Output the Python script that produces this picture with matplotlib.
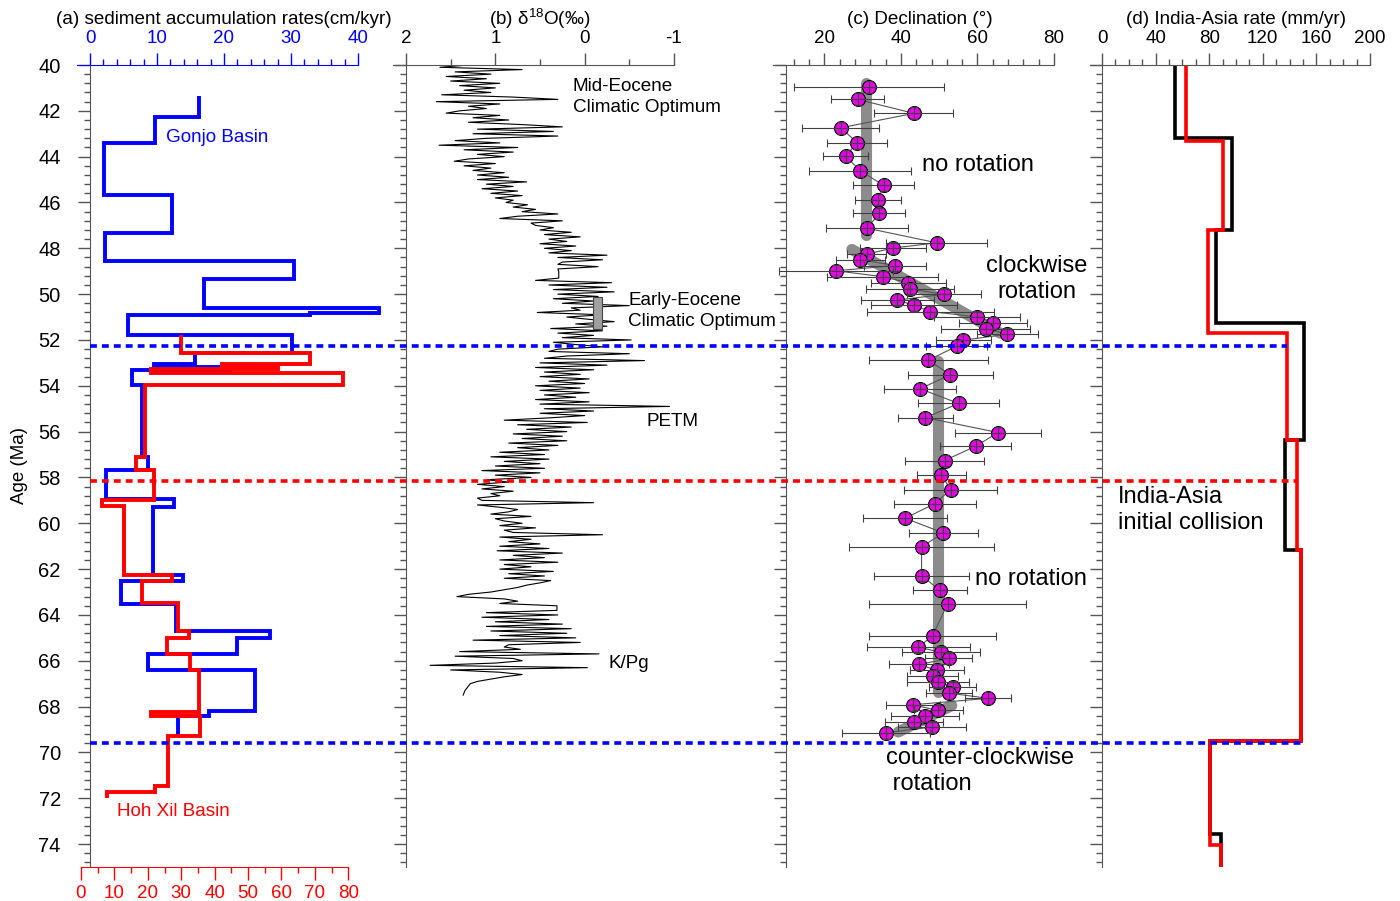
import numpy as np
import matplotlib
matplotlib.use('Agg')
import matplotlib.pyplot as plt
from matplotlib.lines import Line2D

plt.rcParams['font.family'] = ['Liberation Sans', 'DejaVu Sans']
plt.rcParams['mathtext.fontset'] = 'custom'
plt.rcParams['mathtext.rm'] = 'Liberation Sans'
plt.rcParams['axes.unicode_minus'] = False

# (a) sediment accumulation rates, step profiles: age edges (Ma) and rate per interval
gonjo_edges = [41.34, 42.29, 43.42, 45.69, 47.35, 48.56, 49.33, 50.62, 50.82, 50.92,
               51.79, 52.55, 53.07, 53.20, 53.30, 53.97, 57.10, 57.67, 58.96, 59.28,
               62.24, 62.51, 63.54, 64.70, 64.99, 65.69, 66.42, 68.21, 68.43, 69.26]
gonjo_rates = [16.3, 9.75, 2.1, 12.3, 2.3, 30.5, 17.0, 43.2, 32.8,
               5.6, 30.1, 15.6, 9.55, 20.9, 6.3, 7.8, 8.7, 2.4, 12.6,
               9.4, 13.9, 4.6, 12.8, 26.9, 22.0, 8.7, 24.7, 17.7, 13.2]
hohxil_edges = [51.79, 52.55, 53.03, 53.15, 53.25, 53.42, 53.97, 57.12, 57.66, 58.99,
                59.25, 62.24, 62.51, 63.50, 64.70, 64.99, 65.69, 66.42, 68.24, 68.43,
                69.30, 71.47, 71.73, 71.98]
hohxil_rates = [29.8, 68.6, 42.1, 59.1, 20.9, 78.5, 19.2, 16.4, 21.9,
                6.2, 13.0, 27.3, 18.4, 29.1, 32.4, 25.6, 32.6, 35.3, 21.0,
                35.6, 26.0, 22.2, 7.7]

# (b) benthic d18O, one value every 0.1 Myr from 40.0 Ma
d18o_start = 40.0
d18o_step = 0.1
d18o_values = [
    1.30, 1.62, 0.70, 1.45, 1.05, 1.55, 1.10, 1.50, 0.95, 1.40,
    1.00, 1.35, 1.05, 1.60, 0.80, 0.30, 1.66, 0.95, 1.30, 1.10,
    1.40, 1.55, 0.95, 1.25, 0.85, 1.30, 0.70, 0.25, 1.20, 0.35,
    1.25, 0.30, 1.10, 1.45, 0.95, 1.63, 0.75, 1.35, 0.80, 1.20,
    0.90, 1.30, 1.46, 1.00, 1.35, 1.05, 1.25, 0.90, 1.20, 0.85,
    1.20, 0.65, 1.10, 0.80, 1.15, 0.75, 1.05, 0.70, 1.00, 0.80,
    0.88, 0.64, 0.80, 0.55, 0.70, 0.30, 0.75, 0.95, 0.25, 0.60,
    0.55, 0.35, 0.50, 0.15, 0.45, 0.05, 0.40, 0.20, 0.50, 0.10,
    0.45, 0.15, 0.40, -0.25, 0.30, -0.20, 0.25, 0.30, -0.15, 0.30,
    0.29, 0.29, 0.29, 0.29, 0.55, -0.30, 0.40, -0.25, 0.35, -0.33,
    0.30, -0.15, 0.35, -0.10, 0.25, -0.50, 0.15, 0.05, 0.53, -0.20,
    0.20, -0.05, -0.33, 0.10, -0.25, 0.38, -0.20, 0.30, -0.10, 0.25,
    -0.52, 0.35, 0.10, -0.20, 0.30, 0.40, -0.50, 0.20, 0.45, -0.67,
    0.50, -0.25, 0.55, -0.10, 0.45, 0.05, 0.50, -0.05, 0.40, 0.00,
    0.55, 0.05, 0.50, -0.05, 0.45, 0.10, 0.55, -0.05, 0.50, -0.95,
    0.45, -0.10, 0.50, 0.00, 0.40, 0.90, -0.03, 0.75, 0.15, 0.65,
    0.20, 0.80, 0.25, 0.70, 0.20, 0.85, 0.30, 0.75, 0.40, 0.95,
    0.45, 1.05, 0.40, 0.90, 0.50, 1.00, 0.45, 1.15, 0.50, 1.00,
    0.60, 1.10, 0.85, 1.20, 0.90, 1.15, 0.80, 1.05, 0.95, 1.20,
    1.15, -0.10, 1.20, 0.95, 0.75, 0.85, 1.05, 0.60, 1.00, 0.90,
    0.70, 0.95, 0.55, 0.90, 0.80, -0.20, 0.95, 0.60, 0.85, 0.50,
    0.95, 0.40, 0.98, 0.25, 0.80, 0.45, 0.95, 0.30, 0.90, 0.60,
    0.95, 0.35, 0.85, 0.45, 0.90, 0.38, 0.50, 0.65, 0.75, 0.90,
    1.05, 1.30, 1.43, 0.90, 0.75, 0.95, 0.31, 0.31, 0.31, 1.10,
    0.30, 1.15, 0.40, 1.00, 0.25, 1.10, 0.15, 1.05, 0.20, 0.95,
    0.10, 1.25, 0.05, 0.85, 0.90, 0.72, 1.40, -0.16, 1.45, 0.80,
    0.70, 1.00, 1.73, -0.03, 1.50, 0.95, 0.70, 0.90, 1.05, 1.20,
    1.28, 1.30, 1.32, 1.34, 1.35, 1.36]
eeco_ages = [50.14, 51.50]
eeco_d18o = [-0.19, -0.09]

# (c) paleomagnetic declination per site
dec_age = [40.98, 41.50, 42.11, 42.74, 43.39, 43.97, 44.61, 45.25, 45.87, 46.48,
           47.12, 47.76, 47.99, 48.25, 48.50, 48.75, 48.98, 49.24, 49.50, 49.77,
           50.01, 50.26, 50.49, 50.76, 50.99, 51.24, 51.50, 51.75, 52.01, 52.27,
           52.88, 53.52, 54.13, 54.77, 55.39, 56.04, 56.64, 57.26, 57.90, 58.53,
           59.14, 59.78, 60.42, 61.03, 62.28, 62.93, 63.51, 64.90, 65.41, 65.63,
           65.90, 66.16, 66.42, 66.68, 66.93, 67.15, 67.41, 67.64, 67.92, 68.17,
           68.40, 68.68, 68.89, 69.14]
dec_value = [31.7, 28.7, 43.4, 24.3, 28.6, 25.6, 29.3, 35.5, 34.1, 34.4,
             31.1, 49.4, 37.9, 31.1, 29.4, 38.5, 23.1, 35.3, 41.9, 42.4,
             51.2, 39.1, 43.5, 47.7, 59.8, 64.1, 62.2, 67.8, 56.3, 54.6,
             47.2, 52.9, 45.0, 55.1, 46.4, 65.4, 59.5, 51.4, 50.6, 53.0,
             48.9, 41.1, 51.1, 45.4, 45.4, 50.2, 52.2, 48.3, 44.6, 50.5,
             52.5, 44.8, 49.4, 48.3, 49.8, 53.5, 52.6, 62.8, 43.1, 49.8,
             46.3, 43.5, 48.2, 36.1]
dec_error = [19.6, 6.9, 10.3, 10.1, 7.9, 5.9, 13.3, 8.0, 6.0, 6.8,
             10.7, 13.2, 8.6, 5.1, 6.4, 8.1, 14.8, 14.5, 9.8, 11.5,
             9.7, 9.5, 11.2, 16.6, 11.2, 8.9, 11.6, 7.9, 7.2, 8.0,
             15.5, 11.1, 9.3, 10.5, 7.1, 11.3, 9.3, 10.3, 6.3, 12.2,
             10.8, 10.9, 9.0, 18.9, 12.3, 7.0, 20.5, 16.5, 13.5, 10.1,
             6.1, 7.8, 7.0, 6.7, 8.1, 6.1, 6.0, 6.0, 7.0, 6.4,
             8.9, 7.6, 8.9, 11.6]
age_error = 0.26
trend_ages = [[40.80, 47.40], [48.05, 51.70], [52.90, 67.37], [67.95, 69.11]]
trend_decs = [[30.9, 30.9], [27.2, 65.9], [49.7, 49.7], [53.3, 39.3]]

# (d) India-Asia convergence rate, two models
rate_black_edges = [40.0, 43.17, 47.20, 51.28, 56.35, 61.18, 69.48, 73.55, 75.06]
rate_black = [54.7, 96.8, 84.8, 150.7, 136.8, 148.3, 80.6, 88.8]
rate_red_edges = [40.0, 43.30, 47.20, 51.69, 56.35, 61.18, 69.48, 74.06, 75.06]
rate_red = [62.7, 90.0, 79.4, 137.8, 145.8, 148.3, 80.6, 88.8]

# event lines
event_ages = [52.27, 58.17, 69.60]
event_colors = ['#0000ff', '#ff0000', '#0000ff']
event_end_rate = [137.8, 145.8, 148.3]

BLUE = '#0000ff'
RED = '#ff0000'
GRAY = '#555555'
W, H = 1400, 901
TOP, BOT = 65, 867

fig = plt.figure(figsize=(14, 9.01), dpi=100)


def px_rect(left, right):
    return [left / W, 1 - BOT / H, (right - left) / W, (BOT - TOP) / H]


def px_lim(left, right, zero_px, zero_val, px_per_unit):
    return (zero_val + (left - zero_px) / px_per_unit,
            zero_val + (right - zero_px) / px_per_unit)


def ptext(x, y, s, **kw):
    kw.setdefault('va', 'center')
    fig.text(x / W, 1 - y / H, s, **kw)


def age_axis(ax, spine_val, labels=False):
    ax.set_facecolor('none')
    ax.set_ylim(75, 40)
    ax.set_yticks(np.arange(40, 75, 2))
    ax.set_yticks(np.arange(40, 75.01, 0.4), minor=True)
    ax.spines['right'].set_visible(False)
    ax.spines['bottom'].set_visible(False)
    ax.spines['left'].set_position(('data', spine_val))
    ax.spines['left'].set_color(GRAY)
    ax.tick_params(axis='y', which='major', left=True, right=False, direction='out',
                   length=9, width=1, color=GRAY, labelsize=14.5, pad=12, labelleft=labels)
    ax.tick_params(axis='y', which='minor', left=True, right=False, direction='out',
                   length=4.5, width=1, color=GRAY)


def top_axis(ax, major, minor, color):
    ax.xaxis.tick_top()
    ax.set_xticks(major)
    ax.set_xticks(minor, minor=True)
    lo = ax.get_xlim()[0]
    ax.spines['top'].set_bounds(min(lo, major[-1]), max(lo, major[-1]))
    ax.spines['top'].set_color(color)
    ax.tick_params(axis='x', which='major', top=True, bottom=False, direction='out',
                   length=9, width=1, color=color, labelcolor=color, labelsize=13.5, pad=4)
    ax.tick_params(axis='x', which='minor', top=True, bottom=False, direction='out',
                   length=4.5, width=1, color=color)


# ---- panel (a)
ax_a = fig.add_axes(px_rect(77, 400))
ax_a.set_xlim(px_lim(77, 400, 90, 0, 6.7))
age_axis(ax_a, 0, labels=True)
top_axis(ax_a, [0, 10, 20, 30, 40], np.arange(0, 41, 2), BLUE)
ax_a.stairs(gonjo_rates, gonjo_edges, orientation='horizontal', baseline=None,
            color=BLUE, lw=2.8)

ax_r = fig.add_axes(px_rect(77, 400), facecolor='none')
ax_r.set_xlim(px_lim(77, 400, 81, 0, 3.34))
ax_r.set_ylim(75, 40)
for s in ['top', 'left', 'right']:
    ax_r.spines[s].set_visible(False)
ax_r.spines['bottom'].set_bounds(0, 80)
ax_r.spines['bottom'].set_color(RED)
ax_r.set_yticks([])
ax_r.set_xticks(np.arange(0, 81, 10))
ax_r.set_xticks(np.arange(0, 81, 5), minor=True)
ax_r.tick_params(axis='x', which='major', direction='out', length=9, width=1,
                 color=RED, labelcolor=RED, labelsize=13.5, pad=4)
ax_r.tick_params(axis='x', which='minor', direction='out', length=4.5, width=1, color=RED)
ax_r.stairs(hohxil_rates, hohxil_edges, orientation='horizontal', baseline=None,
            color=RED, lw=2.8)

# ---- panel (b)
ax_b = fig.add_axes(px_rect(393, 780))
ax_b.set_xlim(px_lim(393, 780, 406, 2, -89.33))
age_axis(ax_b, 2)
top_axis(ax_b, [2, 1, 0, -1], [1.5, 0.5, -0.5], 'black')
ax_b.spines['top'].set_bounds(-1, ax_b.get_xlim()[0])
ax_b.spines['top'].set_color(GRAY)
ax_b.tick_params(axis='x', which='both', color=GRAY)
d18o_ages = d18o_start + d18o_step * np.arange(len(d18o_values))
ax_b.plot(d18o_values, d18o_ages, color='black', lw=0.8)
ax_b.fill_betweenx(eeco_ages, eeco_d18o[0], eeco_d18o[1], facecolor='#a0a0a0',
                   edgecolor='#444444', lw=0.8, zorder=3)

# ---- panel (c)
ax_c = fig.add_axes(px_rect(773, 1095))
ax_c.set_xlim(px_lim(773, 1095, 786, 10, 3.829))
age_axis(ax_c, 10)
top_axis(ax_c, [20, 40, 60, 80], np.arange(12, 81, 4), 'black')
ax_c.spines['top'].set_color(GRAY)
ax_c.tick_params(axis='x', which='both', color=GRAY)
for ages, decs in zip(trend_ages, trend_decs):
    ax_c.plot(decs, ages, color='#8c8c8c', lw=8, solid_capstyle='round', zorder=2)
ax_c.plot(dec_value, dec_age, color='#555555', lw=0.8, zorder=3)
ax_c.plot(dec_value, dec_age, 'o', ms=10, mfc='#e600e6', mec='black', mew=0.8, zorder=4)
ax_c.errorbar(dec_value, dec_age, xerr=dec_error, yerr=age_error, fmt='none',
              ecolor='#404040', elinewidth=0.8, capsize=3, capthick=0.8, zorder=5)

# ---- panel (d)
ax_d = fig.add_axes(px_rect(1090, 1395))
ax_d.set_xlim(px_lim(1090, 1395, 1102, 0, 1.34))
age_axis(ax_d, 0)
top_axis(ax_d, [0, 40, 80, 120, 160, 200], np.arange(0, 201, 10), 'black')
ax_d.spines['top'].set_color(GRAY)
ax_d.tick_params(axis='x', which='both', color=GRAY)
ax_d.stairs(rate_black, rate_black_edges, orientation='horizontal', baseline=None,
            color='black', lw=2.6)
ax_d.stairs(rate_red, rate_red_edges, orientation='horizontal', baseline=None,
            color=RED, lw=2.6)

# ---- event lines across all panels
inv = fig.transFigure.inverted()
for age, color, end_rate in zip(event_ages, event_colors, event_end_rate):
    p0 = ax_a.transData.transform((0, age))
    p1 = ax_d.transData.transform((end_rate, age))
    (fx0, fy), (fx1, _) = inv.transform([p0, p1])
    fig.add_artist(Line2D([fx0, fx1], [fy, fy], color=color, lw=2.6,
                          dashes=(1.9, 1.4), zorder=10))

# ---- titles and labels
ptext(224, 19, '(a) sediment accumulation rates(cm/kyr)', ha='center', fontsize=13.6)
ptext(540, 19, r'(b) δ$^{\mathregular{18}}$O(‰)', ha='center', fontsize=13.6)
ptext(920, 19, '(c) Declination (°)', ha='center', fontsize=13.6)
ptext(1236, 19, '(d) India-Asia rate (mm/yr)', ha='center', fontsize=13.6)
ptext(20, 466, 'Age (Ma)', ha='center', rotation=90, fontsize=13.5)

ptext(166, 137, 'Gonjo Basin', color=BLUE, fontsize=13.6)
ptext(117, 811, 'Hoh Xil Basin', color=RED, fontsize=13.6)
ptext(573, 97, 'Mid-Eocene\nClimatic Optimum', fontsize=13.6, linespacing=1.25)
ptext(628, 311, 'Early-Eocene\nClimatic Optimum', fontsize=13.6, linespacing=1.25)
ptext(647, 421, 'PETM', fontsize=13.6)
ptext(609, 663, 'K/Pg', fontsize=13.6)
ptext(922, 165, 'no rotation', fontsize=17)
ptext(1037, 279, 'clockwise\nrotation', ha='center', multialignment='center',
      fontsize=17, linespacing=1.2)
ptext(975, 579, 'no rotation', fontsize=17)
ptext(886, 771, 'counter-clockwise\n rotation', fontsize=17, linespacing=1.2)
ptext(1118, 510, 'India-Asia\ninitial collision', fontsize=17, linespacing=1.2)

fig.savefig('out.png', dpi=100)
